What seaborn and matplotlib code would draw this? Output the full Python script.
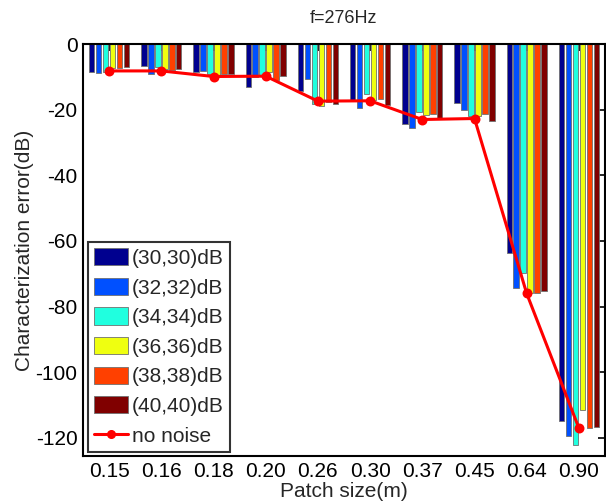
import matplotlib
matplotlib.use("Agg")
import matplotlib.pyplot as plt
import pandas as pd
import seaborn as sns
from matplotlib.lines import Line2D

# Patch sizes (m) on the x axis
patch_sizes = ["0.15", "0.16", "0.18", "0.20", "0.26", "0.30", "0.37", "0.45", "0.64", "0.90"]

# Noise conditions (legend entries)
noise_levels = ["(30,30)dB", "(32,32)dB", "(34,34)dB", "(36,36)dB", "(38,38)dB", "(40,40)dB"]

# Characterization error (dB) per noise condition
err_30 = [-8.5, -6.6, -8.5, -13.0, -14.2, -17.2, -24.5, -17.9, -63.7, -114.7]
err_32 = [-8.7, -9.0, -8.2, -10.2, -10.8, -19.4, -25.5, -20.2, -74.2, -119.3]
err_34 = [-8.4, -7.0, -9.0, -9.3, -18.4, -15.1, -20.7, -22.0, -69.9, -122.1]
err_36 = [-7.2, -7.5, -9.5, -8.6, -19.0, -17.1, -21.7, -22.0, -76.0, -111.4]
err_38 = [-7.2, -8.0, -9.2, -11.0, -17.6, -16.8, -21.2, -21.2, -75.8, -117.0]
err_40 = [-7.0, -7.6, -9.2, -9.7, -18.2, -18.7, -22.5, -23.4, -75.2, -116.6]

# Noise-free reference curve
no_noise = [-8.2, -8.2, -9.9, -9.8, -17.4, -17.3, -23.0, -22.7, -76.0, -117.0]

bar_colors = ["#00008F", "#0050FF", "#20FFDF", "#EFFF10", "#FF4000", "#800000"]

series = [err_30, err_32, err_34, err_36, err_38, err_40]
df = pd.DataFrame(
    [
        {"size": s, "err": v, "noise": lvl}
        for lvl, vals in zip(noise_levels, series)
        for s, v in zip(patch_sizes, vals)
    ]
)

sns.set_theme(style="white")
plt.rcParams["font.family"] = ["Liberation Sans", "DejaVu Sans"]
plt.rcParams["axes.unicode_minus"] = False

fig = plt.figure(figsize=(6.06, 5.04), dpi=100)
ax = fig.add_axes([83 / 606, 48 / 504, 522 / 606, 412 / 504])

sns.barplot(
    data=df, x="size", y="err", hue="noise",
    order=patch_sizes, hue_order=noise_levels,
    palette=bar_colors, saturation=1, width=0.8, gap=0.2,
    edgecolor="#707070", linewidth=0.6, errorbar=None, ax=ax,
)
sns.pointplot(
    x=patch_sizes, y=no_noise, order=patch_sizes, color="#FF0000",
    markers="o", markersize=5.5, linewidth=2.2, errorbar=None, ax=ax,
)
for ln in ax.lines:
    ln.set_zorder(5)

ax.set_xlim(-0.5, 9.5)
ax.set_ylim(-125.5, 0)
ax.set_yticks(range(-120, 1, 20))
ax.set_yticklabels([str(v) for v in range(-120, 1, 20)])

for sp in ax.spines.values():
    sp.set_color("black")
    sp.set_linewidth(1.5)
    sp.set_visible(True)
ax.tick_params(direction="in", length=5, width=1.2, top=True, right=True,
               labelsize=15, colors="black", pad=4)

ax.set_xlabel("Patch size(m)", fontsize=15, labelpad=1)
ax.set_ylabel("Characterization error(dB)", fontsize=15, labelpad=1)
ax.set_title("f=276Hz", fontsize=13, pad=15)

handles, labels = ax.get_legend_handles_labels()
bar_handles = [h for h, l in zip(handles, labels) if l in noise_levels]
line_handle = Line2D([], [], color="#FF0000", marker="o", markersize=5.5, linewidth=2.2)
leg = ax.legend(
    bar_handles + [line_handle], noise_levels + ["no noise"],
    loc="lower left", bbox_to_anchor=(0.01, 0.01), borderaxespad=0,
    fontsize=15, frameon=True, fancybox=False, edgecolor="black",
    handlelength=1.6, handleheight=0.9, handletextpad=0.2,
    labelspacing=0.47, borderpad=0.3,
)
leg.get_frame().set_linewidth(1.5)

fig.savefig("out.png", dpi=100, facecolor="white")
